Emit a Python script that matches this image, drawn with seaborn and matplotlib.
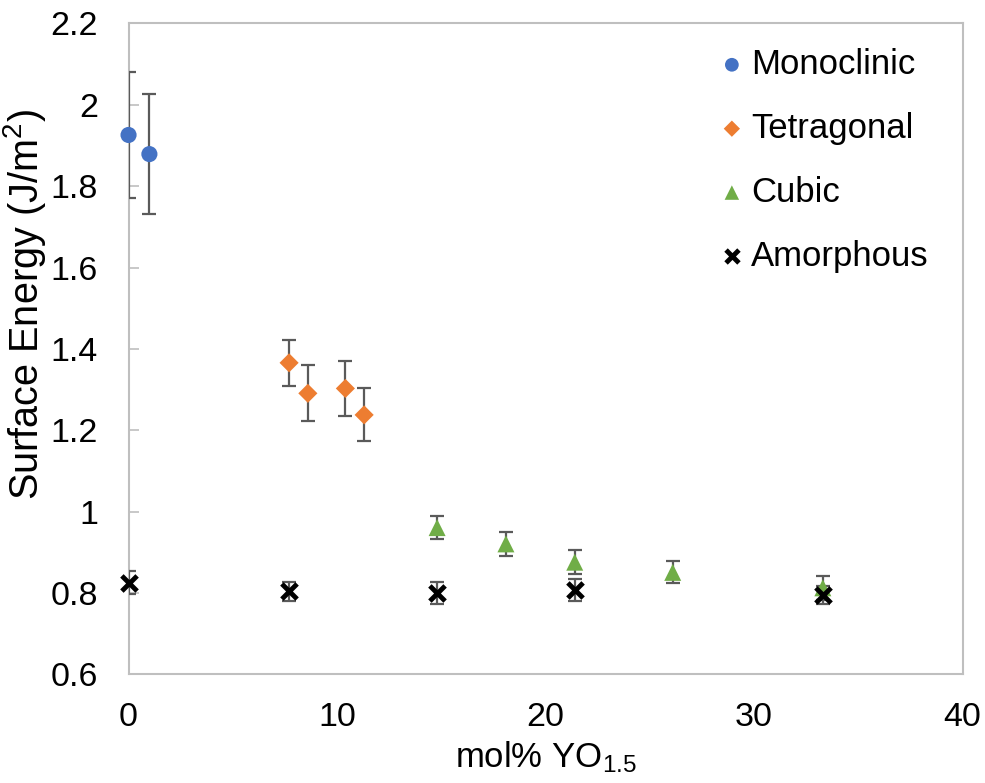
import numpy as np
import pandas as pd
import seaborn as sns
import matplotlib.pyplot as plt

# phases of the samples
phases = ['Monoclinic', 'Tetragonal', 'Cubic', 'Amorphous']

mono_x = [0.0, 1.0]
mono_y = [1.926, 1.879]
mono_err = [0.155, 0.147]

tet_x = [7.7, 8.6, 10.4, 11.3]
tet_y = [1.366, 1.291, 1.303, 1.238]
tet_err = [0.057, 0.069, 0.068, 0.065]

cub_x = [14.8, 18.1, 21.4, 26.1, 33.3]
cub_y = [0.961, 0.921, 0.876, 0.851, 0.813]
cub_err = [0.029, 0.030, 0.029, 0.027, 0.030]

am_x = [0.0, 7.7, 14.8, 21.4, 33.3]
am_y = [0.826, 0.804, 0.800, 0.808, 0.795]
am_err = [0.028, 0.024, 0.027, 0.027, 0.023]

yticks = [0.6, 0.8, 1.0, 1.2, 1.4, 1.6, 1.8, 2.0, 2.2]
xticks = [0, 10, 20, 30, 40]

colors = {'Monoclinic': '#4472C4', 'Tetragonal': '#ED7D31',
          'Cubic': '#70AD47', 'Amorphous': 'black'}
markers = {'Monoclinic': 'o', 'Tetragonal': 'D', 'Cubic': '^', 'Amorphous': 'x'}
sizes = {'Monoclinic': 135, 'Tetragonal': 95, 'Cubic': 150, 'Amorphous': 120}

frames = []
for p, x, y, e in zip(phases, [mono_x, tet_x, cub_x, am_x],
                      [mono_y, tet_y, cub_y, am_y],
                      [mono_err, tet_err, cub_err, am_err]):
    frames.append(pd.DataFrame({'mol': x, 'energy': y, 'err': e, 'phase': p}))
df = pd.concat(frames, ignore_index=True)

sns.set_theme(style='white')
plt.rcParams['font.family'] = ['Liberation Sans', 'DejaVu Sans']
plt.rcParams['mathtext.fontset'] = 'custom'
plt.rcParams['mathtext.rm'] = 'Liberation Sans'
plt.rcParams['mathtext.it'] = 'Liberation Sans'
plt.rcParams['text.color'] = 'black'
plt.rcParams['axes.labelcolor'] = 'black'

fig = plt.figure(figsize=(9.85, 7.83), dpi=100)
ax = fig.add_axes([0.1305, 0.1386, 0.8467, 0.8314])

# error bars first, clipped at the axes like the original
ax.errorbar(df['mol'], df['energy'], yerr=df['err'], fmt='none',
            ecolor='#5A5A5A', elinewidth=1.6, capsize=5, capthick=1.6, zorder=4)

for p in phases:
    d = df[df['phase'] == p]
    if markers[p] == 'x':
        sns.scatterplot(data=d, x='mol', y='energy', marker='x', color=colors[p],
                        s=sizes[p], linewidth=3.5, label=p, ax=ax, zorder=6, clip_on=False)
    else:
        sns.scatterplot(data=d, x='mol', y='energy', marker=markers[p], color=colors[p],
                        s=sizes[p], edgecolor='none', label=p, ax=ax, zorder=5, clip_on=False)

ax.set_xlim(0, 40)
ax.set_ylim(0.6, 2.2)
ax.set_xticks(xticks)
ax.set_yticks(yticks)
ax.set_yticklabels(['%g' % v for v in yticks])

for s in ax.spines.values():
    s.set_color('#BFBFBF')
    s.set_linewidth(1.5)

ax.tick_params(axis='y', direction='in', length=7, width=1.2, color='#BFBFBF',
               labelsize=24.5, pad=22, left=True, labelcolor='black')
ax.tick_params(axis='x', length=0, labelsize=24.5, pad=20, labelcolor='black')

ax.set_xlabel('mol% YO$_{1.5}$', fontsize=25, labelpad=4)
ax.set_ylabel('Surface Energy (J/m$^2$)', fontsize=28.5)
ax.yaxis.set_label_coords(-0.097, 0.568)

leg = ax.legend(loc='upper left', bbox_to_anchor=(702 / 985, 1 - 34 / 783),
                bbox_transform=fig.transFigure, frameon=False,
                fontsize=25, markerscale=0.85, handletextpad=0.1, labelspacing=0.89,
                handlelength=0.92, borderaxespad=0)
for t in leg.get_texts():
    t.set_color('black')

fig.savefig('out.png', dpi=100)
